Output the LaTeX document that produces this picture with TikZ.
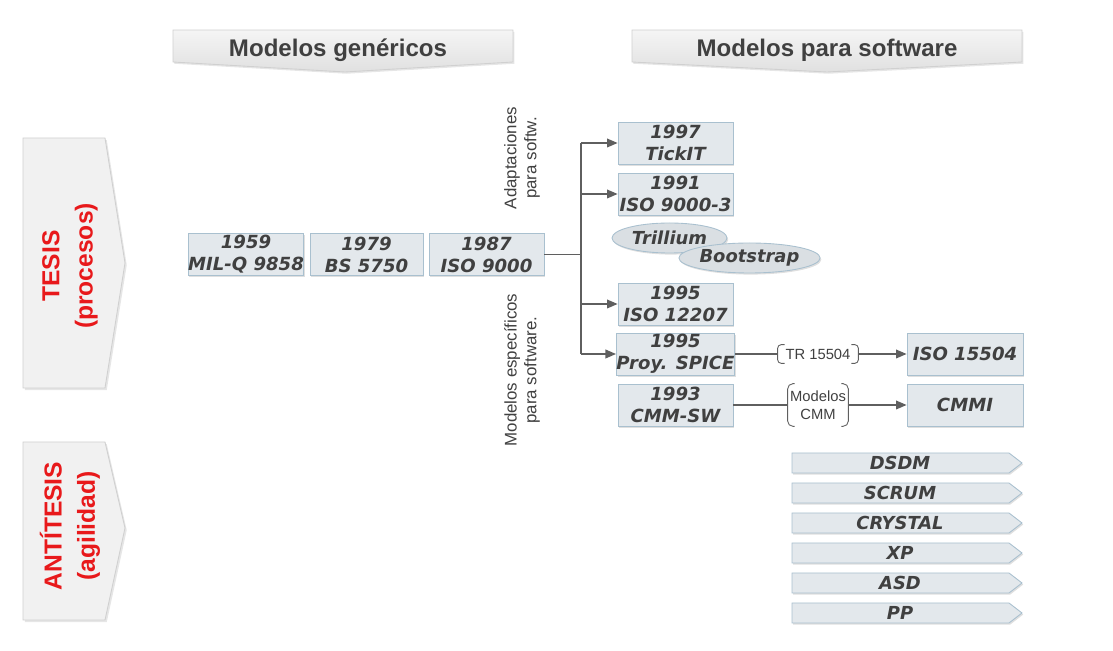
\documentclass[tikz,border=0pt]{standalone}
\usepackage{fontspec}
\setmainfont{Liberation Sans}
\newfontfamily\verdfont{DejaVu Sans}
\usetikzlibrary{arrows.meta,shapes.geometric,shadows,positioning}

\definecolor{boxfill}{HTML}{E3E8EC}
\definecolor{boxline}{HTML}{A9C0CF}
\definecolor{txtgray}{HTML}{404040}
\definecolor{linegray}{HTML}{5F5F5F}
\definecolor{tesisred}{HTML}{E8191B}
\definecolor{panelfill}{HTML}{F1F1F1}
\definecolor{panelline}{HTML}{D0D0D0}

% brackets round a connector label
\newcommand{\labelbrackets}[2]{%
  \draw[linegray,line width=0.5pt,rounded corners=#2] ([xshift=4pt]#1.north west) -- (#1.north west) -- (#1.south west) -- ([xshift=4pt]#1.south west);
  \draw[linegray,line width=0.5pt,rounded corners=#2] ([xshift=-4pt]#1.north east) -- (#1.north east) -- (#1.south east) -- ([xshift=-4pt]#1.south east);}

\begin{document}
\begin{tikzpicture}[x=0.02cm,y=-0.02cm,
  model/.style={draw=boxline,fill=boxfill,line width=0.5pt,minimum width=2.3cm,minimum height=0.84cm,
    inner sep=0pt,align=center,text=txtgray,
    font=\verdfont\bfseries\itshape\fontsize{10.3}{12.5}\selectfont,
    drop shadow={opacity=0.25,shadow xshift=0.7pt,shadow yshift=-0.9pt}},
  oval/.style={ellipse,draw=boxline,fill=boxfill!96!black,line width=0.5pt,minimum width=2.3cm,minimum height=0.6cm,
    inner sep=0pt,text=txtgray,font=\verdfont\bfseries\itshape\fontsize{10.2}{12}\selectfont,
    drop shadow={opacity=0.25,shadow xshift=0.7pt,shadow yshift=-0.9pt}},
  panel/.style={draw=panelline,line width=0.5pt,top color=white!96!black,bottom color=white!88!black,
    drop shadow={opacity=0.2,shadow xshift=0.8pt,shadow yshift=-1pt}},
  side/.style={draw=panelline,line width=0.5pt,fill=panelfill,
    drop shadow={opacity=0.2,shadow xshift=1pt,shadow yshift=-1.2pt}},
  head/.style={text=txtgray,font=\bfseries\fontsize{13.7}{16}\selectfont},
  sidetext/.style={rotate=90,align=center,text=tesisred,font=\bfseries\fontsize{14}{19}\selectfont},
  vlabel/.style={rotate=90,align=center,text=txtgray,font=\fontsize{9.6}{11.3}\selectfont},
  brk/.style={inner sep=0pt,align=center,text=txtgray,font=\fontsize{8.4}{10}\selectfont},
  agile/.style={draw=boxline,fill=boxfill,line width=0.5pt,
    drop shadow={opacity=0.25,shadow xshift=0.7pt,shadow yshift=-0.9pt}},
  agiletext/.style={text=txtgray,font=\verdfont\bfseries\itshape\fontsize{10.2}{11}\selectfont},
  conn/.style={draw=linegray,line width=0.7pt},
  arr/.style={conn,-{Triangle[length=6pt,width=5pt]}}]
\useasboundingbox (0,0) rectangle (1113,651);

% headers
\draw[panel] (173,30) -- (513,30) -- (513,62) -- (345,72) -- (173,62) -- cycle;
\node[head] (hgen) at (338,50) {Modelos genéricos};
\draw[panel] (632,30) -- (1022,30) -- (1022,62) -- (827,72) -- (632,62) -- cycle;
\node[head] (hsoft) at (827,50) {Modelos para software};

% left: tesis / antitesis
\draw[side] (23,138) -- (105,138) -- (125,263) -- (105,388) -- (23,388) -- cycle;
\node[sidetext] (tesis) at (70,266) {TESIS\\(procesos)};
\draw[side] (23,442) -- (105,442) -- (125,528) -- (105,620) -- (23,620) -- cycle;
\node[sidetext] (antitesis) at (70,526) {ANTÍTESIS\\(agilidad)};

% generic models
\node[model] (milq) at (246,254.5) {1959\\MIL-Q 9858};
\node[model,minimum width=2.26cm] (bs) at (366.5,254.5) {1979\\BS 5750};
\node[model] (iso9000) at (486.5,254.5) {1987\\ISO 9000};

\node[vlabel] (adapt) at (522,158) {Adaptaciones\\para softw.};
\node[vlabel] (especif) at (522,370) {Modelos específicos\\para software.};

% software models
\node[model] (tickit) at (675.5,143) {1997\\TickIT};
\node[model] (iso90003) at (675.5,194) {1991\\ISO 9000-3};
\node[oval] (trillium) at (669.5,238) {Trillium};
\node[oval] (bootstrap) at (749.5,258) {Bootstrap};
\node[model] (iso12207) at (675.5,304) {1995\\ISO 12207};
\node[model] (spice) at (675.5,354) {1995\\Proy. SPICE};
\node[model] (cmmsw) at (675.5,405) {1993\\CMM-SW};
\node[model,minimum width=2.32cm] (iso15504) at (965,354) {ISO 15504};
\node[model,minimum width=2.32cm] (cmmi) at (965,405) {CMMI};

% connectors
\coordinate (branch) at (581,254);
\draw[conn] (iso9000.east) -- (iso9000.east -| branch);
\draw[conn] (branch |- tickit.west) -- (branch |- spice.west);
\foreach \n in {tickit,iso90003,iso12207,spice}
  \draw[arr] (branch |- \n.west) -- (\n.west);

\node[brk,minimum width=1.6cm,minimum height=0.36cm] (tr) at (818,354) {TR 15504};
\labelbrackets{tr}{2pt}
\draw[conn] (spice.east) -- (tr.west);
\draw[arr] (tr.east) -- (iso15504.west);

\node[brk,minimum width=1.2cm,minimum height=0.84cm] (cmmlabel) at (818,405) {Modelos\\CMM};
\labelbrackets{cmmlabel}{3pt}
\draw[conn] (cmmsw.east) -- (cmmlabel.west);
\draw[arr] (cmmlabel.east) -- (cmmi.west);

% agile methods
\foreach \name [count=\i] in {DSDM,SCRUM,CRYSTAL,XP,ASD,PP}
{
  \pgfmathsetmacro\ty{433+30*\i}
  \draw[agile] (792,\ty-10) -- (1009,\ty-10) -- (1022,\ty) -- (1009,\ty+10) -- (792,\ty+10) -- cycle;
  \node[agiletext] (tag\i) at (900,\ty) {\name};
}
\end{tikzpicture}
\end{document}
